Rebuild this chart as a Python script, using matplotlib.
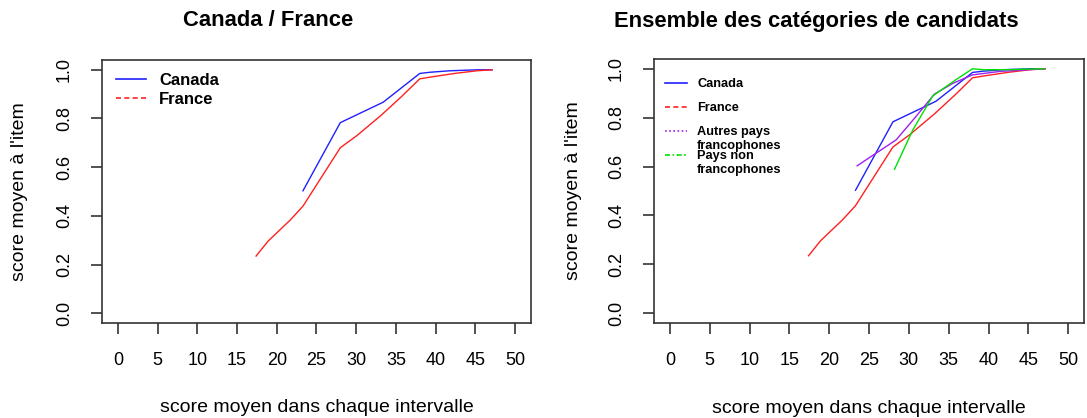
import numpy as np
import matplotlib
matplotlib.use("Agg")
import matplotlib.pyplot as plt
from matplotlib.lines import Line2D

plt.rcParams['font.family'] = ['Liberation Sans', 'DejaVu Sans']

# score moyen dans chaque intervalle / score moyen a l'item
canada_x = [23.3, 28.0, 33.4, 38.0, 39.3, 41.8, 45.2, 47.1]
canada_y = [0.503, 0.783, 0.867, 0.985, 0.990, 0.996, 1.0, 1.0]

france_x = [17.4, 18.9, 21.7, 23.3, 28.0, 30.1, 33.2, 35.7, 38.0, 39.7, 42.6, 45.2, 47.1]
france_y = [0.235, 0.296, 0.383, 0.440, 0.680, 0.730, 0.815, 0.890, 0.963, 0.972, 0.986, 0.996, 1.0]

autres_x = [23.5, 28.4, 30.9, 33.2, 35.5, 38.0, 41.4, 47.0]
autres_y = [0.603, 0.709, 0.805, 0.896, 0.940, 0.975, 0.989, 1.0]

nonfr_x = [28.2, 30.5, 33.0, 35.9, 38.0, 39.3, 42.2, 47.0]
nonfr_y = [0.589, 0.750, 0.889, 0.955, 1.0, 0.996, 0.996, 1.0]

xticks = [0, 5, 10, 15, 20, 25, 30, 35, 40, 45, 50]
yticks = [0.0, 0.2, 0.4, 0.6, 0.8, 1.0]

c_can = '#2020ff'
c_fra = '#ff2020'
c_aut = '#a020f0'
c_non = '#00e000'

fig = plt.figure(figsize=(10.87, 4.18), dpi=100)
ax1 = fig.add_axes([0.0938, 0.2273, 0.3947, 0.629])
ax2 = fig.add_axes([0.6017, 0.2273, 0.3956, 0.6316])


def style(ax):
    ax.set_xlim(-2, 52)
    ax.set_ylim(-0.04, 1.04)
    ax.set_xticks(xticks)
    ax.set_yticks(yticks)
    ax.set_yticklabels(['%.1f' % v for v in yticks], rotation=90, va='center')
    ax.tick_params(axis='both', direction='out', length=8, width=1.2,
                   labelsize=13, pad=13, color='#333333')
    for s in ax.spines.values():
        s.set_color('#333333')
        s.set_linewidth(1.2)
    ax.set_xlabel("score moyen dans chaque intervalle", fontsize=14)
    ax.set_ylabel("score moyen à l'item", fontsize=14)
    ax.xaxis.set_label_coords(0.5, -0.323)
    ax.xaxis.label.set_va('center')
    ax.yaxis.set_label_coords(-0.192, 0.5)
    ax.yaxis.label.set_va('center')


# panneau gauche
ax1.plot(canada_x, canada_y, color=c_can, lw=1.0)
ax1.plot(france_x, france_y, color=c_fra, lw=1.0)
style(ax1)
h1 = [Line2D([], [], color=c_can, lw=1.2, ls='-'),
      Line2D([], [], color=c_fra, lw=1.2, ls=(0, (3, 2)))]
ax1.legend(h1, ['Canada', 'France'], loc='upper left', frameon=False,
           bbox_to_anchor=(0.033, 0.95), borderaxespad=0, borderpad=0,
           prop={'size': 12, 'weight': 'bold'}, handlelength=1.8,
           handletextpad=0.78, labelspacing=0.2)

# panneau droit
ax2.plot(canada_x, canada_y, color=c_can, lw=1.0)
ax2.plot(france_x, france_y, color=c_fra, lw=1.0)
ax2.plot(autres_x, autres_y, color=c_aut, lw=1.0)
ax2.plot(nonfr_x, nonfr_y, color=c_non, lw=1.0)
style(ax2)
ax2.yaxis.set_label_coords(-0.188, 0.5)
h2 = [Line2D([], [], color=c_can, lw=1.2, ls='-'),
      Line2D([], [], color=c_fra, lw=1.2, ls=(0, (3, 2))),
      Line2D([], [], color=c_aut, lw=1.2, ls=(0, (1, 1.5))),
      Line2D([], [], color=c_non, lw=1.2, ls=(0, (3, 1.5, 1, 1.5)))]
leg2 = ax2.legend(h2, ['Canada', 'France', 'Autres pays', 'Pays non'],
                  loc='upper left', frameon=False,
                  bbox_to_anchor=(0.026, 0.928), borderaxespad=0, borderpad=0,
                  prop={'size': 9.2, 'weight': 'bold'}, handlelength=1.72,
                  handletextpad=0.78, labelspacing=0.94)
# deuxieme ligne des libelles longs
for t in leg2.get_texts()[2:]:
    ax2.annotate('francophones', xy=(0, 0), xycoords=t, xytext=(0, -14),
                 textcoords='offset pixels', ha='left', va='bottom',
                 fontsize=9.2, fontweight='bold', zorder=6)

fig.text(268 / 1087, 1 - 21 / 418, "Canada / France", fontsize=15.8,
         fontweight='bold', ha='center', va='center')
fig.text(816 / 1087, 1 - 21 / 418, "Ensemble des catégories de candidats",
         fontsize=15.8, fontweight='bold', ha='center', va='center')

fig.savefig("out.png", dpi=100)
